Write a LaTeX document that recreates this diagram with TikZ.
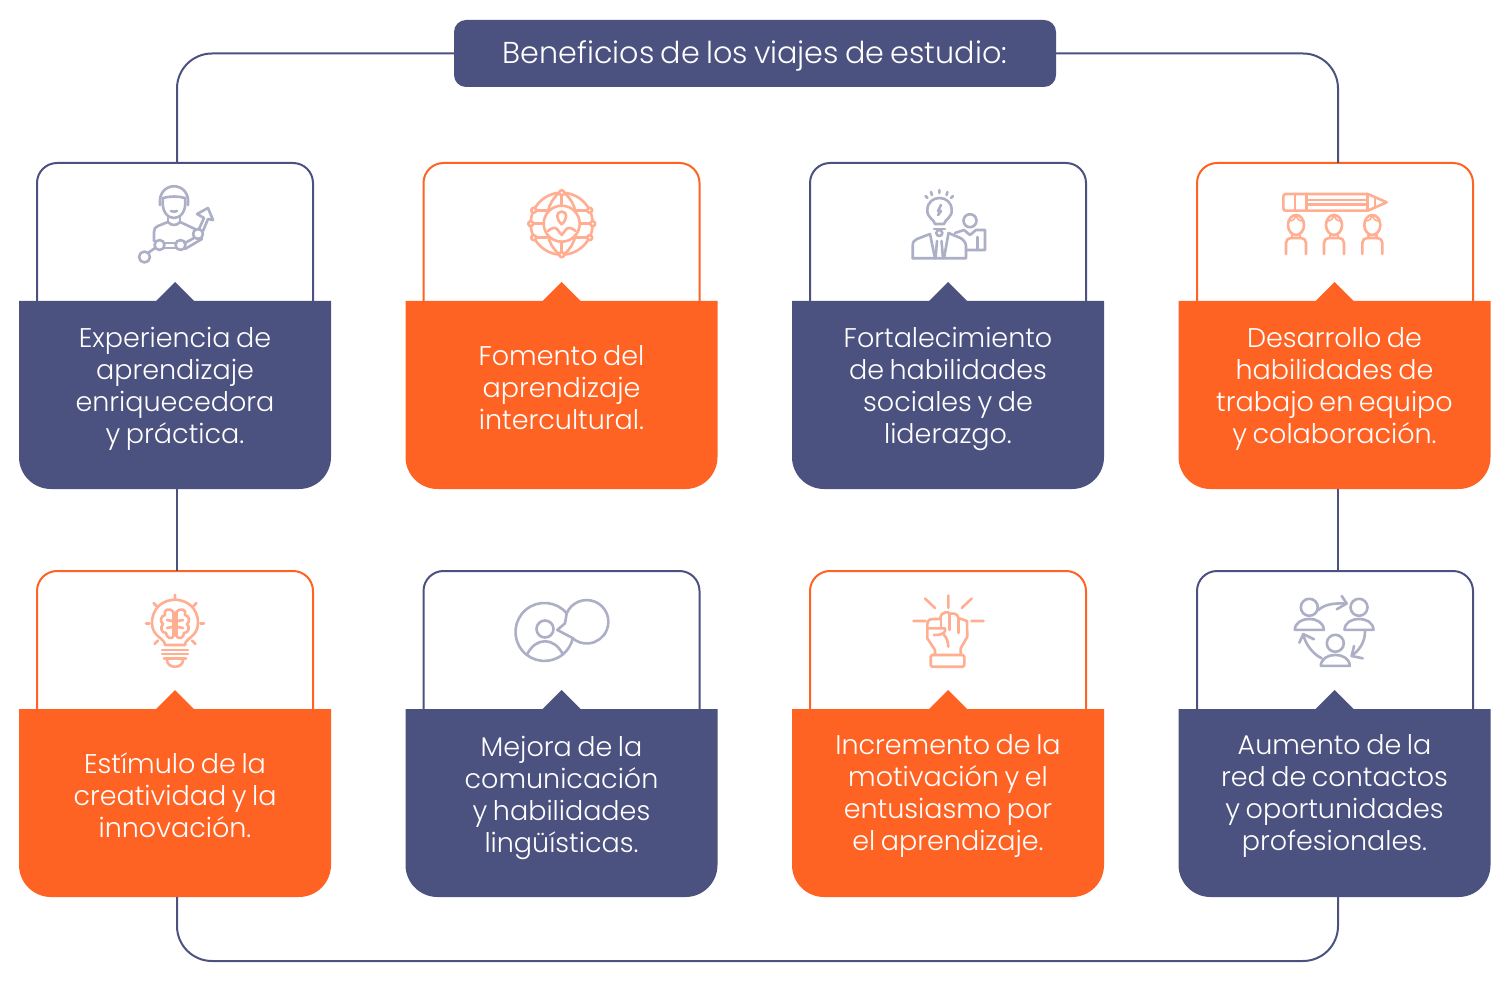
\documentclass[tikz,border=0pt]{standalone}
\usepackage{fontspec}
\setmainfont{Poppins}[UprightFont=* Light, WordSpace=0.75]
\definecolor{marino}{HTML}{4C5280}
\definecolor{naranja}{HTML}{FF6324}
\definecolor{marinoclaro}{HTML}{ACAFC6}
\definecolor{naranjaclaro}{HTML}{FFAE91}
\tikzset{
    enlace/.style={draw=marino, line width=2pt, rounded corners=35pt},
    cabeza/.style={shape=rectangle, draw=#1, fill=white, line width=2pt, rounded corners=20pt, minimum width=276pt, minimum height=167pt, inner sep=0pt, outer sep=0pt},
    tarjeta/.style={shape=rectangle, minimum width=312pt, minimum height=188pt, inner sep=0pt, outer sep=0pt},
    rotulo/.style={text=white, align=center, font=\fontsize{27}{32}\selectfont},
    titulo/.style={shape=rectangle, fill=marino, text=white, rounded corners=12pt, minimum width=602pt, minimum height=67pt, inner sep=0pt, outer sep=0pt, text depth=2pt, font=\fontsize{30.2}{32}\selectfont},
    iconoa/.style={draw=marinoclaro, line width=2.6pt, line cap=round, line join=round},
    iconob/.style={draw=naranjaclaro, line width=2.6pt, line cap=round, line join=round}
}
\begin{document}
\begin{tikzpicture}[x=1pt,y=1pt]
    \useasboundingbox (0,0) rectangle (1510,-981);
    \node[titulo] (titulo) at (755,-53.5) {Beneficios de los viajes de estudio:};

    \node[cabeza=marino] (h1) at (175,-246.5) {};
    \node[cabeza=naranja] (h2) at (561.5,-246.5) {};
    \node[cabeza=marino] (h3) at (948,-246.5) {};
    \node[cabeza=naranja] (h4) at (1335,-246.5) {};
    \node[cabeza=naranja] (h5) at (175,-654.5) {};
    \node[cabeza=marino] (h6) at (561.5,-654.5) {};
    \node[cabeza=naranja] (h7) at (948,-654.5) {};
    \node[cabeza=marino] (h8) at (1335,-654.5) {};

    \node[tarjeta] (b1) at (175,-395) {};
    \node[tarjeta] (b2) at (561.5,-395) {};
    \node[tarjeta] (b3) at (948,-395) {};
    \node[tarjeta] (b4) at (1334.5,-395) {};
    \node[tarjeta] (b5) at (175,-803) {};
    \node[tarjeta] (b6) at (561.5,-803) {};
    \node[tarjeta] (b7) at (948,-803) {};
    \node[tarjeta] (b8) at (1334.5,-803) {};

    \foreach \n/\tono in {b1/marino,b2/naranja,b3/marino,b4/naranja,b5/naranja,b6/marino,b7/naranja,b8/marino} {
        \fill[\tono] (\n.north west) -- (\n.north east) [rounded corners=32pt] -- (\n.south east) -- (\n.south west) [sharp corners] -- cycle;
        \fill[\tono] ([xshift=-19pt]\n.north) -- ([yshift=19pt]\n.north) -- ([xshift=19pt]\n.north) -- cycle;
    }

    \node[rotulo] (t1) at (175,-389) {Experiencia de\\aprendizaje\\enriquecedora\\y práctica.};
    \node[rotulo] (t2) at (561.5,-388) {Fomento del\\aprendizaje\\intercultural.};
    \node[rotulo] (t3) at (948,-388.5) {Fortalecimiento\\de habilidades\\sociales y de\\liderazgo.};
    \node[rotulo] (t4) at (1334.5,-389) {Desarrollo de\\habilidades de\\trabajo en equipo\\y colaboración.};
    \node[rotulo] (t5) at (175,-795) {Estímulo de la\\creatividad y la\\innovación.};
    \node[rotulo] (t6) at (561.5,-798) {Mejora de la\\comunicación\\y habilidades\\lingüísticas.};
    \node[rotulo] (t7) at (948,-796) {Incremento de la\\motivación y el\\entusiasmo por\\el aprendizaje.};
    \node[rotulo] (t8) at (1334.5,-796) {Aumento de la\\red de contactos\\y oportunidades\\profesionales.};

    \draw[enlace] (titulo.west) -| ([xshift=2pt]h1.north);
    \draw[enlace] (titulo.east) -| ([xshift=3pt]h4.north);
    \draw[enlace] ([xshift=2pt]b1.south) -- ([xshift=2pt]h5.north);
    \draw[enlace] ([xshift=3.5pt]b4.south) -- ([xshift=3pt]h8.north);
    \draw[enlace] ([xshift=2pt]b5.south) -- ++(0,-64) -| ([xshift=3.5pt]b8.south);

    % persona y grafica
    \draw[iconoa] (160,-205) .. controls (157,-180) and (191,-180) .. (188,-205);
    \draw[iconoa] (163,-198) .. controls (170,-196) and (178,-196) .. (185,-198);
    \draw[iconoa] (163,-198) .. controls (161,-212) and (168,-218) .. (174,-218) .. controls (180,-218) and (187,-212) .. (185,-198);
    \draw[iconoa] (171,-211) .. controls (173,-212) and (175,-212) .. (177,-211);
    \draw[iconoa] (168,-217) -- (168,-222) (180,-217) -- (180,-222);
    \draw[iconoa] (195,-229) -- (180,-222) .. controls (177,-226) and (171,-226) .. (168,-222) -- (158,-226) .. controls (155,-227) and (154,-229) .. (154,-232) -- (154,-241);
    \draw[iconoa] (144.5,-257) circle[radius=5.5];
    \draw[iconoa] (159.5,-245) circle[radius=5];
    \draw[iconoa] (180.5,-245) circle[radius=5];
    \draw[iconoa] (198,-234) circle[radius=5];
    \draw[iconoa] (148,-253) -- (155,-248);
    \draw[iconoa] (164.5,-243) -- (175.5,-243) (164.5,-248) -- (175.5,-248);
    \draw[iconoa] (185,-243) -- (194,-238) (185,-249) -- (202,-239);
    \draw[iconoa] (199,-229) -- (204,-218) -- (197,-214) -- (208,-208) -- (213,-220) -- (208,-219) -- (203,-231);

    % globo
    \draw[iconob] (561.7,-223.7) circle[radius=31];
    \draw[iconob] (561.7,-223.7) circle[radius=18];
    \foreach \px/\py in {561.7/-192.7,561.7/-254.7,530.7/-223.7,592.7/-223.7,533.7/-210.3,589.7/-210.3,533.7/-237.7,589.7/-237.7}
        \draw[iconob, fill=white] (\px,\py) circle[radius=2.5];
    \draw[iconob] (536,-210.3) -- (547,-210.3) (576,-210.3) -- (587,-210.3) (536,-237.7) -- (547,-237.7) (576,-237.7) -- (587,-237.7);
    \draw[iconob] (533.7,-223.7) -- (543.7,-223.7) (579.7,-223.7) -- (589.7,-223.7);
    \draw[iconob] (561.7,-195.7) -- (561.7,-205.7) (561.7,-241.7) -- (561.7,-251.7);
    \draw[iconob] (559,-193) .. controls (553,-198) and (549,-205) .. (548,-212);
    \draw[iconob] (564.4,-193) .. controls (570.4,-198) and (574.4,-205) .. (575.4,-212);
    \draw[iconob] (559,-254) .. controls (553,-249) and (549,-242) .. (548,-235);
    \draw[iconob] (564.4,-254) .. controls (570.4,-249) and (574.4,-242) .. (575.4,-235);
    \draw[iconob] (561.7,-224.5) .. controls (556,-219) and (555.5,-212) .. (561.7,-211.5) .. controls (567.9,-212) and (567.4,-219) .. (561.7,-224.5);
    \draw[iconob] (548,-231) .. controls (551,-228) and (555,-227) .. (557,-229) -- (561.7,-235) -- (566.4,-229) .. controls (568.4,-227) and (572.4,-228) .. (575.4,-231);

    % idea y liderazgo
    \draw[iconoa] (935,-224) .. controls (934,-219) and (927,-218) .. (927.3,-210) .. controls (927.5,-194) and (951.5,-194) .. (951.7,-210) .. controls (952,-218) and (945,-219) .. (944,-224) -- cycle;
    \draw[iconoa] (934,-229) -- (945,-229);
    \draw[iconoa] (941,-205) -- (938,-211) -- (941,-211) -- (938,-215);
    \draw[iconoa] (939.3,-190) -- (939.3,-193) (931,-192) -- (932,-195) (947.5,-192) -- (946.5,-195) (925.5,-196) -- (927.5,-198) (953,-196) -- (951,-198);
    \draw[iconoa] (912.7,-258.3) -- (912.7,-246) .. controls (912.7,-242) and (914,-240) .. (917,-239) -- (930,-234) -- (935,-258.3);
    \draw[iconoa] (912.7,-258.3) -- (966,-258.3) -- (966,-246) .. controls (966,-242) and (962,-238) .. (958,-237) -- (948.5,-233) -- (944,-258.3);
    \draw[iconoa] (939.3,-233) circle[radius=3];
    \draw[iconoa] (937,-241) -- (935.5,-258) (941.5,-241) -- (943,-258);
    \draw[iconoa] (970,-220.7) circle[radius=6.5];
    \draw[iconoa] (955,-233) -- (964,-230) -- (970,-235) -- (976,-230) -- (985,-230) -- (985,-250) -- (967,-250);
    \draw[iconoa] (977.3,-237) -- (977.3,-250);

    % lapiz y personas
    \draw[iconob] (1367.7,-194) -- (1286,-194) .. controls (1284,-194) and (1283.3,-195) .. (1283.3,-197) -- (1283.3,-208) .. controls (1283.3,-210) and (1284,-210.7) .. (1286,-210.7) -- (1367.7,-210.7) -- (1386.7,-202.3) -- cycle;
    \draw[iconob] (1295,-194) -- (1295,-210.7) (1306.7,-194) -- (1306.7,-210.7) (1367.7,-194) -- (1367.7,-210.7);
    \draw[iconob] (1306.7,-200) -- (1367.7,-200) (1306.7,-204.5) -- (1367.7,-204.5);
    \draw[iconob] (1375,-198) -- (1375,-206.5);
    \foreach \px in {1296,1334,1372.3} {
        \draw[iconob] (\px,-225) ellipse[x radius=8, y radius=10];
        \draw[iconob, line width=1.6pt] (\px-7,-221) .. controls (\px-3,-221) and (\px-1,-219) .. (\px,-216) .. controls (\px+1,-219) and (\px+3,-221) .. (\px+7,-221);
        \draw[iconob] (\px-4,-235) -- (\px-4,-238) (\px+4,-235) -- (\px+4,-238);
        \draw[iconob] (\px-10,-254) -- (\px-10,-243) .. controls (\px-10,-240) and (\px-8,-238) .. (\px-5,-238) -- (\px+5,-238) .. controls (\px+8,-238) and (\px+10,-240) .. (\px+10,-243) -- (\px+10,-254);
    }

    % bombilla y cerebro
    \draw[iconob] (165,-645) .. controls (165,-638) and (152,-637) .. (152,-623) .. controls (152,-592) and (198,-592) .. (198,-623) .. controls (198,-637) and (185,-638) .. (185,-645) -- cycle;
    \draw[iconob] (162,-650) -- (188,-650) (162,-654) -- (188,-654) (164,-658.5) -- (186,-658.5);
    \draw[iconob] (167,-660) .. controls (167,-669) and (183,-669) .. (183,-660);
    \draw[iconob] (175,-595) -- (175,-599) (153.5,-603) -- (157,-606.5) (196.5,-603) -- (193,-606.5) (146,-623.5) -- (149.5,-623.5) (200.5,-623.5) -- (204,-623.5) (154.5,-644) -- (158,-640.5) (195.5,-644) -- (192,-640.5);
    \draw[iconob] (173.5,-612) .. controls (169,-607) and (163,-610) .. (165,-615) .. controls (160,-616) and (160,-622) .. (163,-624) .. controls (160,-627) and (161,-633) .. (166,-633) .. controls (166,-638) and (172,-640) .. (173.5,-636) -- cycle;
    \draw[iconob] (176.5,-612) .. controls (181,-607) and (187,-610) .. (185,-615) .. controls (190,-616) and (190,-622) .. (187,-624) .. controls (190,-627) and (189,-633) .. (184,-633) .. controls (184,-638) and (178,-640) .. (176.5,-636) -- cycle;
    \draw[iconob] (167,-620) -- (172,-621) (167,-628) -- (172,-627) (183,-620) -- (178,-621) (183,-628) -- (178,-627);

    % conversacion
    \draw[iconoa] (566.7,-613.3) arc[start angle=40, end angle=348, radius=29];
    \draw[iconoa] (566.7,-613.3) -- (565,-623.3) -- (557.3,-630) -- (571.7,-637.5);
    \draw[iconoa] (566.7,-613.3) arc[start angle=157, end angle=-132, radius=21.7];
    \draw[iconoa] (545,-629) circle[radius=8.5];
    \draw[iconoa] (527.3,-654) .. controls (536,-637) and (554,-637) .. (562.7,-654);

    % puno
    \draw[iconob] (948.3,-595.5) -- (948.3,-608) (925,-598.5) -- (935,-608) (971.7,-598.5) -- (961.7,-608) (913.5,-621) -- (925.5,-621) (971.5,-621) -- (983.5,-621);
    \draw[iconob, rounded corners=1.5pt] (930.7,-655) rectangle (964.3,-666.7);
    \draw[iconob] (935,-655) -- (935,-650) -- (927.3,-638.3) -- (927.3,-625) .. controls (927.3,-621) and (929,-619) .. (933.3,-619) -- (940.5,-619) -- (940.5,-617) .. controls (940.5,-613) and (949.3,-610) .. (949.3,-614) .. controls (952,-613) and (958,-613) .. (958.3,-618) -- (967,-621) -- (967.3,-636.7) -- (960.7,-648.3) -- (960.7,-655);
    \draw[iconob] (941,-617) -- (941,-628) (949.3,-614) -- (949.3,-630) (958.3,-618) -- (958.3,-633);
    \draw[iconob] (928,-628.3) -- (945,-628.3) .. controls (946,-632) and (944,-635) .. (934,-635);
    \draw[iconob] (944,-635) .. controls (947,-638) and (948,-642) .. (948.3,-646.7);

    % red de personas
    \foreach \px/\py in {1309.3/-607.3,1359/-607.3,1335.3/-643.3} {
        \draw[iconoa] (\px,\py) circle[radius=8.5];
        \draw[iconoa] (\px-14.5,\py-22.5) .. controls (\px-14,\py-8) and (\px+14,\py-8) .. (\px+14.5,\py-22.5) -- cycle;
    }
    \draw[iconoa] (1318.3,-610) .. controls (1325,-604) and (1335,-603) .. (1346,-603.5);
    \draw[iconoa] (1341.7,-596) -- (1346.7,-603.5) -- (1336.7,-609.3);
    \draw[iconoa] (1365,-631.7) .. controls (1365,-642) and (1359,-651) .. (1351.7,-655.5);
    \draw[iconoa] (1354,-646) -- (1351.7,-656) -- (1362.7,-658.3);
    \draw[iconoa] (1321.7,-658.3) .. controls (1313,-654) and (1306,-645) .. (1303.3,-635);
    \draw[iconoa] (1299.3,-642.7) -- (1303.3,-634) -- (1314,-639.3);
\end{tikzpicture}
\end{document}
